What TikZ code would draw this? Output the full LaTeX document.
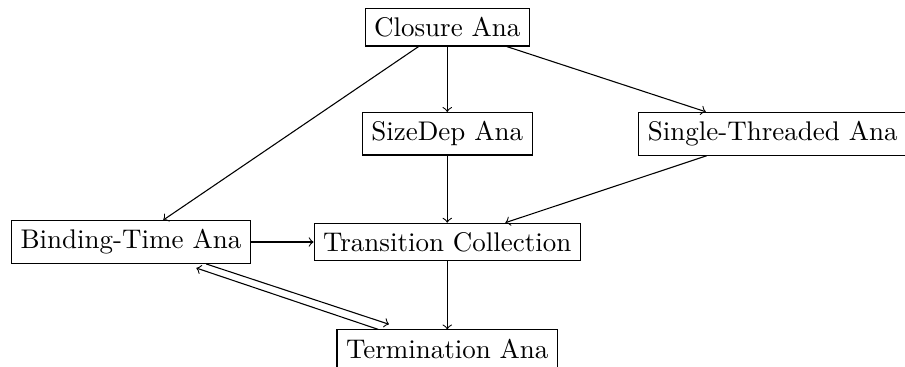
\documentclass[tikz,border=0pt]{standalone}
\usetikzlibrary{positioning}

\begin{document}
\begin{tikzpicture}[node distance=1.41cm,on grid,
  ana/.style={draw,rectangle}]
  \node[ana] (tc) {Transition Collection};
  \node[ana] (sd) [above = of tc] {SizeDep Ana};
  \node[ana] (cl) [above = 1.39cm of sd] {Closure Ana};
  \node[ana] (st) [right = 4.24cm of sd] {Single-Threaded Ana};
  \node[ana] (bt) [left = 4.12cm of tc] {Binding-Time Ana};
  \node[ana] (tm) [below = 1.39cm of tc] {Termination Ana};
  \path[->]
  (cl)
  edge [] (sd)
  edge [] (bt)
  edge [] (st)
  (sd)
  edge [] (tc)
  (st)
  edge [] (tc)
  (bt)
  edge [] (tc)
  (tc)
  edge [] (tm)
  ;
  \draw[->] ([xshift=27.9pt]bt.south) -- ([xshift=-21.6pt,yshift=1.9pt]tm.north);
  \draw[->] ([xshift=-25.6pt]tm.north) -- ([xshift=24.2pt,yshift=-1.5pt]bt.south);
  \coordinate (nw) at (bt.west |- cl.north);
  \coordinate (se) at (st.east |- tm.south);
  \pgfresetboundingbox
  \useasboundingbox ([shift={(-4.1pt,2.8pt)}]nw) rectangle ([shift={(-0.8pt,0.4pt)}]se);
\end{tikzpicture}
\end{document}
